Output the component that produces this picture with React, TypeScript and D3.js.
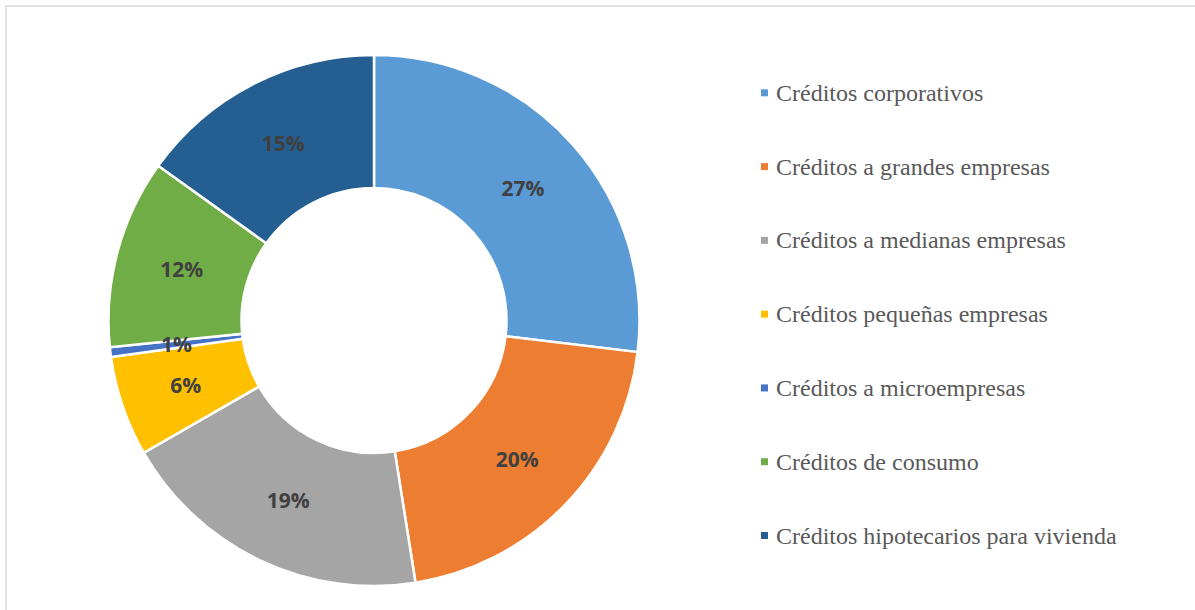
import React from "react";
import * as d3 from "d3";

const categories = [
  "Créditos corporativos",
  "Créditos a grandes empresas",
  "Créditos a medianas empresas",
  "Créditos pequeñas empresas",
  "Créditos a microempresas",
  "Créditos de consumo",
  "Créditos hipotecarios para vivienda",
];
const values = [26.9, 20.6, 19.2, 6.1, 0.6, 11.5, 15.1];
const labels = ["27%", "20%", "19%", "6%", "1%", "12%", "15%"];
const colors = ["#5B9BD5", "#ED7D31", "#A5A5A5", "#FFC000", "#4472C4", "#70AD47", "#255E91"];

const W = 1195;
const H = 610;
const CX = 374;
const CY = 320.5;
const R_OUT = 265.5;
const R_IN = 132.5;

const SERIF = "Liberation Serif, Tinos, Times New Roman, Times, DejaVu Serif, Noto Serif, serif";

export default function App() {
  const pie = d3
    .pie<number>()
    .sort(null)
    .value((d) => d)
    .startAngle(0)
    .endAngle(2 * Math.PI);
  const arcs = pie(values);
  const arc = d3.arc<d3.PieArcDatum<number>>().innerRadius(R_IN).outerRadius(R_OUT);
  const labelArc = d3
    .arc<d3.PieArcDatum<number>>()
    .innerRadius((R_IN + R_OUT) / 2)
    .outerRadius((R_IN + R_OUT) / 2);

  const legendY = d3
    .scalePoint<string>()
    .domain(categories)
    .range([92.8, 535.5]);

  return (
    <svg
      width={W}
      height={H}
      style={{ position: "absolute", left: 0, top: 0, background: "#fff" }}
    >
      <rect x={6} y={6} width={W} height={H} fill="#fff" stroke="#d9d9d9" strokeWidth={1.5} />
      <g transform={`translate(${CX},${CY})`}>
        {arcs.map((a, i) => (
          <path key={i} d={arc(a) || ""} fill={colors[i]} stroke="#fff" strokeWidth={2.5} />
        ))}
        {arcs.map((a, i) => {
          const [x, y] = labelArc.centroid(a);
          return (
            <text
              key={"l" + i}
              x={x}
              y={y}
              textAnchor="middle"
              dominantBaseline="central"
              style={{ fontFamily: "'Open Sans', sans-serif", fontWeight: 700, fontSize: "21px" }}
              fill="#404040"
            >
              {labels[i]}
            </text>
          );
        })}
      </g>
      <g>
        {categories.map((c, i) => {
          const y = legendY(c) as number;
          return (
            <g key={c}>
              <rect x={761} y={y - 3.5} width={7} height={7} fill={colors[i]} />
              <text
                x={776}
                y={y + 8}
                style={{ fontFamily: SERIF, fontSize: "24px" }}
                fill="#595959"
              >
                {c}
              </text>
            </g>
          );
        })}
      </g>
    </svg>
  );
}
